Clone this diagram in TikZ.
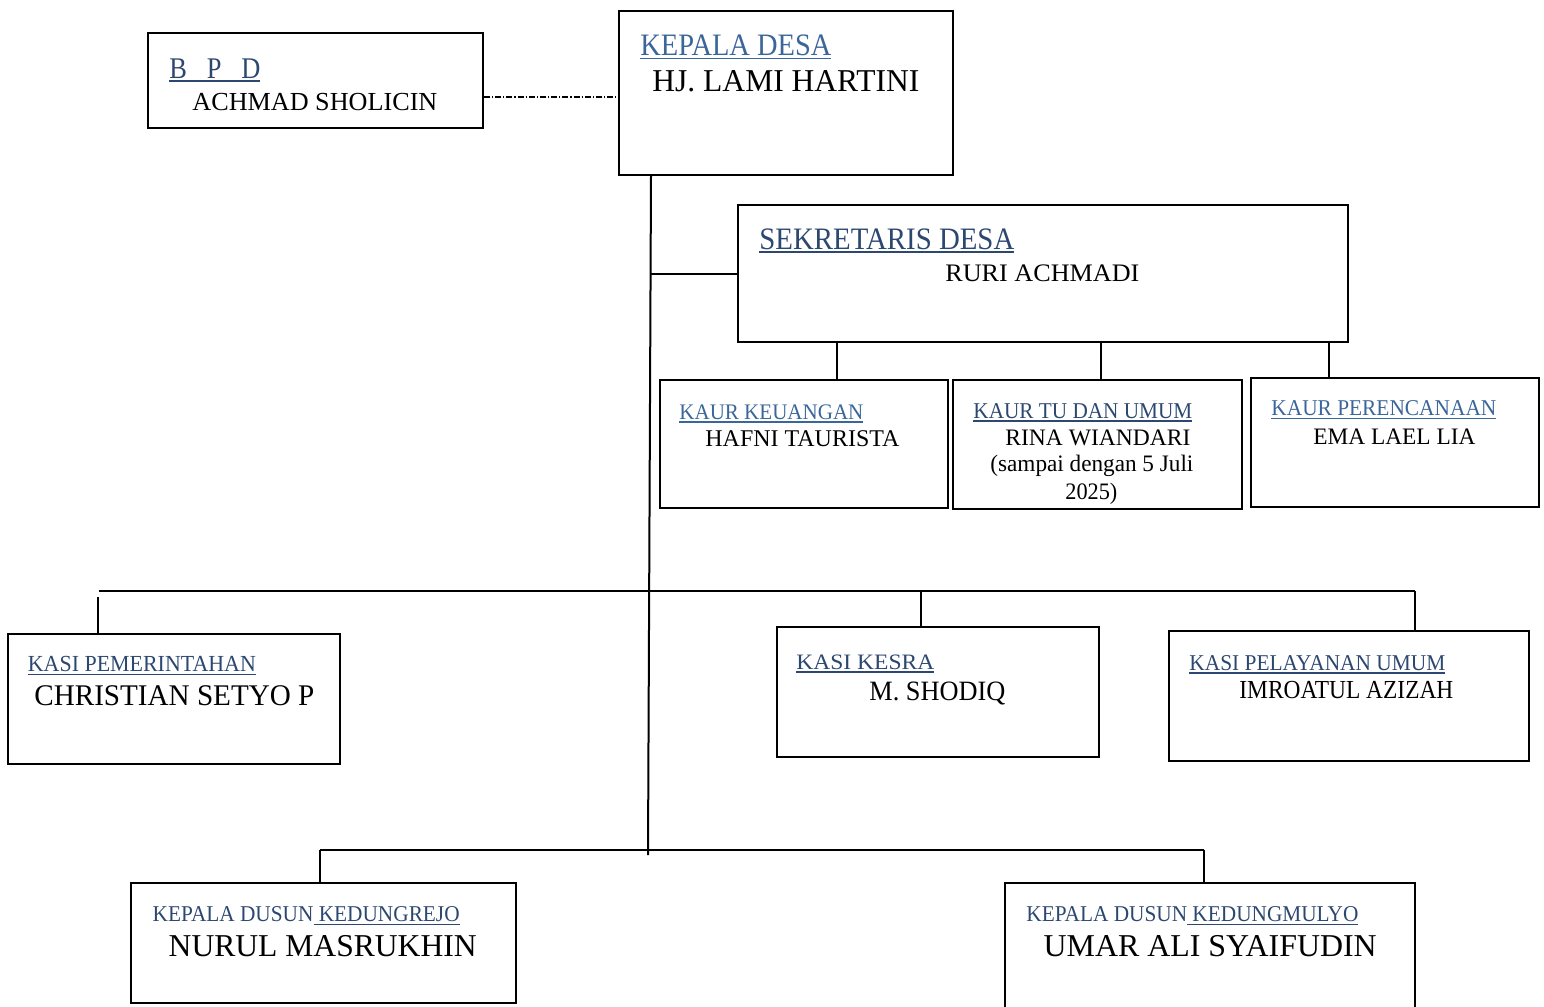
\documentclass[tikz,border=0pt]{standalone}
\usepackage{fontspec}
\setmainfont{Liberation Serif}
\usepackage{graphicx}
\usetikzlibrary{fit}
\definecolor{tblue}{RGB}{59,102,153}
\definecolor{tdark}{RGB}{44,72,112}
\newlength\pxu \setlength\pxu{0.5pt}
\newcommand\ul[1]{\vtop{\hbox{#1}\kern0.9pt\hrule height 0.8pt}}
\newcommand\Lbl[7]{\node[lbl] (#1) at (#2,#3) {\resizebox{#4\pxu}{\height}{\fontsize{#5}{#5}\selectfont\color{#6}#7}};}
\tikzset{
  box/.style={draw, line width=1pt, inner sep=0pt},
  lbl/.style={anchor=base west, inner sep=0pt},
  conn/.style={line width=1pt},
  dashdot/.style={line width=0.6pt, dash pattern=on 3pt off 1pt on 0.6pt off 1pt}
}
\begin{document}
\begin{tikzpicture}[x=0.5pt, y=-0.5pt]
\useasboundingbox (0,0) rectangle (1544,1007);
% boxes
\node[box, fit={(148,33) (483,128)}] (bpd) {};
\node[box, fit={(619,11) (953,175)}] (kades) {};
\node[box, fit={(738,205) (1348,342)}] (sek) {};
\node[box, fit={(660,380) (948,508)}] (kaur1) {};
\node[box, fit={(953,380) (1242,509)}] (kaur2) {};
\node[box, fit={(1251,378) (1539,507)}] (kaur3) {};
\node[box, fit={(8,634) (340,764)}] (kasi1) {};
\node[box, fit={(777,627) (1099,757)}] (kasi2) {};
\node[box, fit={(1169,631) (1529,761)}] (kasi3) {};
\node[box, fit={(131,883) (516,1003)}] (dusun1) {};
\node[box, fit={(1005,883) (1415,1015)}] (dusun2) {};
% helper coordinates
\coordinate (bpdline) at (0,97);
\coordinate (trunktop) at (651,0);
\coordinate (trunkbot) at (648,855);
\coordinate (xs1) at (837,0);
\coordinate (xs2) at (1101,0);
\coordinate (xs3) at (1329,0);
\coordinate (kl) at (99,591);
\coordinate (kr) at (1415,591);
\coordinate (ks1) at (98,597);
\coordinate (xk2) at (921,0);
\coordinate (dl) at (320,850);
\coordinate (dr) at (1204,850);
% connectors
\draw[dashdot] (bpd.east |- bpdline) -- (kades.west |- bpdline);
\draw[conn] (kades.south -| trunktop) -- (trunkbot);
\draw[conn] (sek.west) -- (sek.west -| trunktop);
\draw[conn] (sek.south -| xs1) -- (kaur1.north -| xs1);
\draw[conn] (sek.south -| xs2) -- (kaur2.north -| xs2);
\draw[conn] (sek.south -| xs3) -- (kaur3.north -| xs3);
\draw[conn] (kl) -- (kr);
\draw[conn] (ks1) -- (kasi1.north -| ks1);
\draw[conn] (kl -| xk2) -- (kasi2.north -| xk2);
\draw[conn] (kr) -- (kasi3.north -| kr);
\draw[conn] (dl) -- (dr);
\draw[conn] (dl) -- (dusun1.north -| dl);
\draw[conn] (dr) -- (dusun2.north -| dr);
% labels
\Lbl{t1}{169}{78.3}{91}{15}{tdark}{\ul{B\ \ \ P\ \ \ D}}
\Lbl{n1}{192}{110}{245}{13}{black}{ACHMAD SHOLICIN}
\Lbl{t2}{640}{55.7}{191}{15.6}{tblue}{\ul{KEPALA DESA}}
\Lbl{n2}{652}{91.7}{267}{15.9}{black}{HJ. LAMI HARTINI}
\Lbl{t3}{759}{249}{255}{15.6}{tdark}{\ul{SEKRETARIS DESA}}
\Lbl{n3}{945}{281.7}{194}{12.6}{black}{RURI ACHMADI}
\Lbl{t4}{679}{419}{184}{11.1}{tblue}{\ul{KAUR KEUANGAN}}
\Lbl{n4}{705}{446.7}{194}{12}{black}{HAFNI TAURISTA}
\Lbl{t5}{973}{418.3}{219}{11.3}{tdark}{\ul{KAUR TU DAN UMUM}}
\Lbl{n5}{1005}{445}{185}{11.8}{black}{RINA WIANDARI}
\Lbl{n5b}{990}{471.7}{203}{11.8}{black}{(sampai dengan 5 Juli}
\Lbl{n5c}{1065}{499}{52}{11.8}{black}{2025)}
\Lbl{t6}{1271}{415.7}{225}{11.3}{tblue}{\ul{KAUR PERENCANAAN}}
\Lbl{n6}{1313}{444}{162}{11.8}{black}{EMA LAEL LIA}
\Lbl{t7}{27.5}{671.7}{228}{11.5}{tdark}{\ul{KASI PEMERINTAHAN}}
\Lbl{n7}{34}{705}{280}{15}{black}{CHRISTIAN SETYO P}
\Lbl{t8}{796}{669.3}{138}{11}{tdark}{\ul{KASI KESRA}}
\Lbl{n8}{869}{700}{136}{14}{black}{M. SHODIQ}
\Lbl{t9}{1189}{670}{256}{11.3}{tdark}{\ul{KASI PELAYANAN UMUM}}
\Lbl{n9}{1239}{698.3}{214}{13}{black}{IMROATUL AZIZAH}
\Lbl{t10}{152.3}{921.7}{307}{11.3}{tdark}{KEPALA DUSUN\ul{\ KEDUNGREJO}}
\Lbl{n10}{168.3}{956}{308}{15.9}{black}{NURUL MASRUKHIN}
\Lbl{t11}{1026}{921.7}{332}{11.3}{tdark}{KEPALA DUSUN\ul{\ KEDUNGMULYO}}
\Lbl{n11}{1043.3}{956}{333}{15.9}{black}{UMAR ALI SYAIFUDIN}
\end{tikzpicture}
\end{document}
